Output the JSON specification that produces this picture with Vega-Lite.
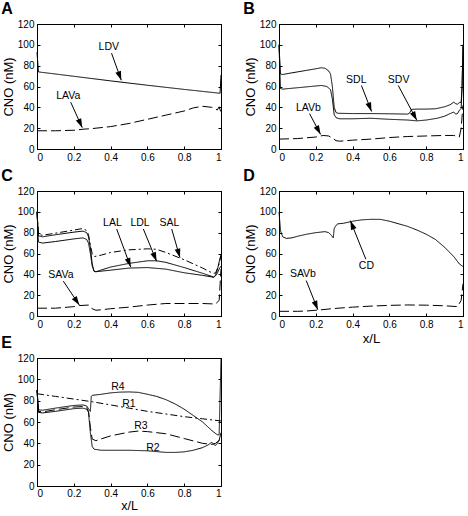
{
  "$schema": "https://vega.github.io/schema/vega-lite/v6.json",
  "padding": {"left": 0, "top": 0, "right": 0, "bottom": 0},
  "bounds": "flush",
  "columns": 2,
  "spacing": {"row": 42, "column": 58},
  "config": {
    "view": {"stroke": "black", "strokeWidth": 1},
    "font": "Liberation Sans",
    "axis": {"grid": false, "domainColor": "black", "tickColor": "black", "labelColor": "black", "titleColor": "black", "labelFont": "Liberation Sans", "labelFontSize": 10, "titleFont": "Liberation Sans", "titleFontSize": 13, "titleFontWeight": "normal", "tickSize": -3, "labelPadding": 6, "titlePadding": 3},
    "axisY": {"titlePadding": 2},
    "title": {"anchor": "start", "frame": "bounds", "fontSize": 16, "fontWeight": "bold", "font": "Liberation Sans", "color": "black", "offset": 2, "dx": -1},
    "text": {"font": "Liberation Sans", "fontSize": 10.5, "color": "black"}
  },
  "datasets": {
    "curves": [
      {"panel":"A","series":"LDV","x":0,"y":93},{"panel":"A","series":"LDV","x":0.008,"y":74},{"panel":"A","series":"LDV","x":0.1,"y":72},{"panel":"A","series":"LDV","x":0.2,"y":69.8},{"panel":"A","series":"LDV","x":0.3,"y":67.6},{"panel":"A","series":"LDV","x":0.4,"y":65.4},{"panel":"A","series":"LDV","x":0.5,"y":63.3},{"panel":"A","series":"LDV","x":0.6,"y":61.2},{"panel":"A","series":"LDV","x":0.7,"y":59.2},{"panel":"A","series":"LDV","x":0.8,"y":57.2},{"panel":"A","series":"LDV","x":0.9,"y":55.3},{"panel":"A","series":"LDV","x":0.995,"y":53.5},{"panel":"A","series":"LDV","x":1,"y":71},
      {"panel":"A","series":"LAVa","x":0,"y":17.5},{"panel":"A","series":"LAVa","x":0.1,"y":17.5},{"panel":"A","series":"LAVa","x":0.2,"y":18},{"panel":"A","series":"LAVa","x":0.25,"y":19},{"panel":"A","series":"LAVa","x":0.3,"y":19.6},{"panel":"A","series":"LAVa","x":0.4,"y":21.5},{"panel":"A","series":"LAVa","x":0.5,"y":24.5},{"panel":"A","series":"LAVa","x":0.6,"y":28.5},{"panel":"A","series":"LAVa","x":0.7,"y":32.5},{"panel":"A","series":"LAVa","x":0.8,"y":36.5},{"panel":"A","series":"LAVa","x":0.85,"y":39.5},{"panel":"A","series":"LAVa","x":0.9,"y":41},{"panel":"A","series":"LAVa","x":0.95,"y":40},{"panel":"A","series":"LAVa","x":0.98,"y":37.5},{"panel":"A","series":"LAVa","x":0.99,"y":40.5},{"panel":"A","series":"LAVa","x":1,"y":35},
      {"panel":"B","series":"SDL","x":0,"y":100},{"panel":"B","series":"SDL","x":0.008,"y":72},{"panel":"B","series":"SDL","x":0.02,"y":71.5},{"panel":"B","series":"SDL","x":0.05,"y":72.5},{"panel":"B","series":"SDL","x":0.1,"y":74},{"panel":"B","series":"SDL","x":0.15,"y":75.5},{"panel":"B","series":"SDL","x":0.2,"y":77},{"panel":"B","series":"SDL","x":0.23,"y":78},{"panel":"B","series":"SDL","x":0.25,"y":77.5},{"panel":"B","series":"SDL","x":0.27,"y":75},{"panel":"B","series":"SDL","x":0.28,"y":72},{"panel":"B","series":"SDL","x":0.29,"y":60},{"panel":"B","series":"SDL","x":0.3,"y":40},{"panel":"B","series":"SDL","x":0.31,"y":35},{"panel":"B","series":"SDL","x":0.32,"y":34.3},{"panel":"B","series":"SDL","x":0.4,"y":34},{"panel":"B","series":"SDL","x":0.5,"y":34},{"panel":"B","series":"SDL","x":0.6,"y":33.8},{"panel":"B","series":"SDL","x":0.7,"y":33.5},{"panel":"B","series":"SDL","x":0.71,"y":34.5},{"panel":"B","series":"SDL","x":0.72,"y":38},{"panel":"B","series":"SDL","x":0.75,"y":38.3},{"panel":"B","series":"SDL","x":0.8,"y":38.3},{"panel":"B","series":"SDL","x":0.85,"y":38.6},{"panel":"B","series":"SDL","x":0.9,"y":40.5},{"panel":"B","series":"SDL","x":0.93,"y":42.5},{"panel":"B","series":"SDL","x":0.95,"y":45},{"panel":"B","series":"SDL","x":0.96,"y":43.5},{"panel":"B","series":"SDL","x":0.97,"y":43},{"panel":"B","series":"SDL","x":0.98,"y":44.5},{"panel":"B","series":"SDL","x":0.99,"y":45},{"panel":"B","series":"SDL","x":0.995,"y":60},{"panel":"B","series":"SDL","x":1,"y":100},
      {"panel":"B","series":"SDV","x":0,"y":100},{"panel":"B","series":"SDV","x":0.008,"y":58},{"panel":"B","series":"SDV","x":0.02,"y":57.5},{"panel":"B","series":"SDV","x":0.1,"y":58.8},{"panel":"B","series":"SDV","x":0.2,"y":60.5},{"panel":"B","series":"SDV","x":0.23,"y":61},{"panel":"B","series":"SDV","x":0.26,"y":60},{"panel":"B","series":"SDV","x":0.28,"y":57},{"panel":"B","series":"SDV","x":0.29,"y":48},{"panel":"B","series":"SDV","x":0.3,"y":33},{"panel":"B","series":"SDV","x":0.31,"y":30},{"panel":"B","series":"SDV","x":0.33,"y":29},{"panel":"B","series":"SDV","x":0.4,"y":29},{"panel":"B","series":"SDV","x":0.5,"y":29.5},{"panel":"B","series":"SDV","x":0.6,"y":28.5},{"panel":"B","series":"SDV","x":0.7,"y":27.8},{"panel":"B","series":"SDV","x":0.75,"y":27},{"panel":"B","series":"SDV","x":0.8,"y":27.8},{"panel":"B","series":"SDV","x":0.86,"y":29.5},{"panel":"B","series":"SDV","x":0.9,"y":31.5},{"panel":"B","series":"SDV","x":0.93,"y":34},{"panel":"B","series":"SDV","x":0.95,"y":35.5},{"panel":"B","series":"SDV","x":0.96,"y":33.5},{"panel":"B","series":"SDV","x":0.97,"y":34},{"panel":"B","series":"SDV","x":0.98,"y":37},{"panel":"B","series":"SDV","x":0.99,"y":39},{"panel":"B","series":"SDV","x":0.995,"y":60},{"panel":"B","series":"SDV","x":1,"y":100},
      {"panel":"B","series":"LAVb","x":0,"y":9.5},{"panel":"B","series":"LAVb","x":0.1,"y":10},{"panel":"B","series":"LAVb","x":0.2,"y":11.5},{"panel":"B","series":"LAVb","x":0.24,"y":13},{"panel":"B","series":"LAVb","x":0.27,"y":12.5},{"panel":"B","series":"LAVb","x":0.29,"y":10.5},{"panel":"B","series":"LAVb","x":0.31,"y":8},{"panel":"B","series":"LAVb","x":0.33,"y":7.5},{"panel":"B","series":"LAVb","x":0.4,"y":8.5},{"panel":"B","series":"LAVb","x":0.5,"y":9.5},{"panel":"B","series":"LAVb","x":0.6,"y":11},{"panel":"B","series":"LAVb","x":0.7,"y":12},{"panel":"B","series":"LAVb","x":0.8,"y":12.5},{"panel":"B","series":"LAVb","x":0.9,"y":13},{"panel":"B","series":"LAVb","x":0.95,"y":13},{"panel":"B","series":"LAVb","x":0.98,"y":11.5},{"panel":"B","series":"LAVb","x":0.99,"y":20},{"panel":"B","series":"LAVb","x":1,"y":42},
      {"panel":"C","series":"SAL","x":0,"y":100},{"panel":"C","series":"SAL","x":0.008,"y":78},{"panel":"C","series":"SAL","x":0.03,"y":77.5},{"panel":"C","series":"SAL","x":0.1,"y":79.5},{"panel":"C","series":"SAL","x":0.2,"y":82.5},{"panel":"C","series":"SAL","x":0.25,"y":84},{"panel":"C","series":"SAL","x":0.27,"y":82},{"panel":"C","series":"SAL","x":0.28,"y":78},{"panel":"C","series":"SAL","x":0.29,"y":68},{"panel":"C","series":"SAL","x":0.3,"y":60},{"panel":"C","series":"SAL","x":0.31,"y":57},{"panel":"C","series":"SAL","x":0.35,"y":58.5},{"panel":"C","series":"SAL","x":0.4,"y":61},{"panel":"C","series":"SAL","x":0.5,"y":63.5},{"panel":"C","series":"SAL","x":0.6,"y":64.5},{"panel":"C","series":"SAL","x":0.65,"y":64},{"panel":"C","series":"SAL","x":0.7,"y":61},{"panel":"C","series":"SAL","x":0.8,"y":54},{"panel":"C","series":"SAL","x":0.9,"y":46},{"panel":"C","series":"SAL","x":0.95,"y":41.5},{"panel":"C","series":"SAL","x":0.97,"y":41},{"panel":"C","series":"SAL","x":0.99,"y":50},{"panel":"C","series":"SAL","x":1,"y":58},
      {"panel":"C","series":"LDL","x":0,"y":100},{"panel":"C","series":"LDL","x":0.008,"y":77},{"panel":"C","series":"LDL","x":0.03,"y":76},{"panel":"C","series":"LDL","x":0.1,"y":78},{"panel":"C","series":"LDL","x":0.2,"y":80.5},{"panel":"C","series":"LDL","x":0.25,"y":81.5},{"panel":"C","series":"LDL","x":0.27,"y":80},{"panel":"C","series":"LDL","x":0.28,"y":76},{"panel":"C","series":"LDL","x":0.29,"y":66},{"panel":"C","series":"LDL","x":0.3,"y":50},{"panel":"C","series":"LDL","x":0.31,"y":43},{"panel":"C","series":"LDL","x":0.32,"y":42.5},{"panel":"C","series":"LDL","x":0.4,"y":47},{"panel":"C","series":"LDL","x":0.5,"y":50.5},{"panel":"C","series":"LDL","x":0.6,"y":53},{"panel":"C","series":"LDL","x":0.65,"y":53},{"panel":"C","series":"LDL","x":0.7,"y":51.5},{"panel":"C","series":"LDL","x":0.8,"y":46.5},{"panel":"C","series":"LDL","x":0.9,"y":41},{"panel":"C","series":"LDL","x":0.95,"y":38},{"panel":"C","series":"LDL","x":0.96,"y":37.5},{"panel":"C","series":"LDL","x":0.97,"y":39},{"panel":"C","series":"LDL","x":0.98,"y":44},{"panel":"C","series":"LDL","x":0.99,"y":52},{"panel":"C","series":"LDL","x":1,"y":59},
      {"panel":"C","series":"LAL","x":0,"y":100},{"panel":"C","series":"LAL","x":0.008,"y":71},{"panel":"C","series":"LAL","x":0.03,"y":70},{"panel":"C","series":"LAL","x":0.1,"y":71.5},{"panel":"C","series":"LAL","x":0.2,"y":74},{"panel":"C","series":"LAL","x":0.25,"y":75},{"panel":"C","series":"LAL","x":0.27,"y":73.5},{"panel":"C","series":"LAL","x":0.28,"y":70},{"panel":"C","series":"LAL","x":0.29,"y":60},{"panel":"C","series":"LAL","x":0.3,"y":48},{"panel":"C","series":"LAL","x":0.31,"y":43},{"panel":"C","series":"LAL","x":0.32,"y":42.5},{"panel":"C","series":"LAL","x":0.4,"y":44},{"panel":"C","series":"LAL","x":0.5,"y":46},{"panel":"C","series":"LAL","x":0.6,"y":46.5},{"panel":"C","series":"LAL","x":0.7,"y":45},{"panel":"C","series":"LAL","x":0.8,"y":41.5},{"panel":"C","series":"LAL","x":0.9,"y":39},{"panel":"C","series":"LAL","x":0.95,"y":37.5},{"panel":"C","series":"LAL","x":0.96,"y":37},{"panel":"C","series":"LAL","x":0.97,"y":38.5},{"panel":"C","series":"LAL","x":0.98,"y":41},{"panel":"C","series":"LAL","x":0.99,"y":45},{"panel":"C","series":"LAL","x":1,"y":48},
      {"panel":"C","series":"SAVa","x":0,"y":7.5},{"panel":"C","series":"SAVa","x":0.1,"y":7.5},{"panel":"C","series":"SAVa","x":0.2,"y":9},{"panel":"C","series":"SAVa","x":0.23,"y":10},{"panel":"C","series":"SAVa","x":0.28,"y":10.5},{"panel":"C","series":"SAVa","x":0.29,"y":9.5},{"panel":"C","series":"SAVa","x":0.3,"y":7},{"panel":"C","series":"SAVa","x":0.32,"y":5.5},{"panel":"C","series":"SAVa","x":0.35,"y":6},{"panel":"C","series":"SAVa","x":0.4,"y":7},{"panel":"C","series":"SAVa","x":0.5,"y":8.5},{"panel":"C","series":"SAVa","x":0.6,"y":10.5},{"panel":"C","series":"SAVa","x":0.7,"y":12},{"panel":"C","series":"SAVa","x":0.8,"y":12},{"panel":"C","series":"SAVa","x":0.9,"y":12},{"panel":"C","series":"SAVa","x":0.97,"y":11.5},{"panel":"C","series":"SAVa","x":0.99,"y":15},{"panel":"C","series":"SAVa","x":1,"y":45},
      {"panel":"D","series":"CD","x":0,"y":100},{"panel":"D","series":"CD","x":0.008,"y":82},{"panel":"D","series":"CD","x":0.02,"y":76},{"panel":"D","series":"CD","x":0.04,"y":74.5},{"panel":"D","series":"CD","x":0.07,"y":75},{"panel":"D","series":"CD","x":0.1,"y":76.5},{"panel":"D","series":"CD","x":0.15,"y":78.5},{"panel":"D","series":"CD","x":0.2,"y":80},{"panel":"D","series":"CD","x":0.25,"y":81},{"panel":"D","series":"CD","x":0.27,"y":80},{"panel":"D","series":"CD","x":0.285,"y":77.5},{"panel":"D","series":"CD","x":0.295,"y":75},{"panel":"D","series":"CD","x":0.3,"y":84},{"panel":"D","series":"CD","x":0.31,"y":87},{"panel":"D","series":"CD","x":0.32,"y":88.5},{"panel":"D","series":"CD","x":0.35,"y":89},{"panel":"D","series":"CD","x":0.4,"y":91},{"panel":"D","series":"CD","x":0.45,"y":92.3},{"panel":"D","series":"CD","x":0.5,"y":92.8},{"panel":"D","series":"CD","x":0.55,"y":92.8},{"panel":"D","series":"CD","x":0.6,"y":91},{"panel":"D","series":"CD","x":0.65,"y":88.5},{"panel":"D","series":"CD","x":0.7,"y":86},{"panel":"D","series":"CD","x":0.75,"y":82.5},{"panel":"D","series":"CD","x":0.8,"y":78.5},{"panel":"D","series":"CD","x":0.85,"y":73.5},{"panel":"D","series":"CD","x":0.9,"y":66},{"panel":"D","series":"CD","x":0.95,"y":57},{"panel":"D","series":"CD","x":0.98,"y":50},{"panel":"D","series":"CD","x":1,"y":47.5},
      {"panel":"D","series":"SAVb","x":0,"y":4.5},{"panel":"D","series":"SAVb","x":0.1,"y":4.5},{"panel":"D","series":"SAVb","x":0.15,"y":4.8},{"panel":"D","series":"SAVb","x":0.22,"y":5.8},{"panel":"D","series":"SAVb","x":0.3,"y":7.2},{"panel":"D","series":"SAVb","x":0.4,"y":8.5},{"panel":"D","series":"SAVb","x":0.5,"y":9.5},{"panel":"D","series":"SAVb","x":0.6,"y":10.2},{"panel":"D","series":"SAVb","x":0.7,"y":10.6},{"panel":"D","series":"SAVb","x":0.8,"y":10.4},{"panel":"D","series":"SAVb","x":0.9,"y":9.8},{"panel":"D","series":"SAVb","x":0.97,"y":9},{"panel":"D","series":"SAVb","x":0.99,"y":15},{"panel":"D","series":"SAVb","x":1,"y":31},
      {"panel":"E","series":"R1","x":0,"y":86.5},{"panel":"E","series":"R1","x":0.1,"y":84},{"panel":"E","series":"R1","x":0.2,"y":81.5},{"panel":"E","series":"R1","x":0.3,"y":79},{"panel":"E","series":"R1","x":0.4,"y":76},{"panel":"E","series":"R1","x":0.5,"y":73},{"panel":"E","series":"R1","x":0.6,"y":70},{"panel":"E","series":"R1","x":0.7,"y":67.5},{"panel":"E","series":"R1","x":0.8,"y":65},{"panel":"E","series":"R1","x":0.9,"y":63},{"panel":"E","series":"R1","x":1,"y":61},
      {"panel":"E","series":"R4","x":0,"y":90},{"panel":"E","series":"R4","x":0.008,"y":71.5},{"panel":"E","series":"R4","x":0.03,"y":71},{"panel":"E","series":"R4","x":0.1,"y":73},{"panel":"E","series":"R4","x":0.2,"y":75.5},{"panel":"E","series":"R4","x":0.25,"y":76},{"panel":"E","series":"R4","x":0.27,"y":75},{"panel":"E","series":"R4","x":0.28,"y":72.5},{"panel":"E","series":"R4","x":0.29,"y":70},{"panel":"E","series":"R4","x":0.295,"y":84},{"panel":"E","series":"R4","x":0.3,"y":85},{"panel":"E","series":"R4","x":0.35,"y":86},{"panel":"E","series":"R4","x":0.4,"y":87.3},{"panel":"E","series":"R4","x":0.45,"y":88},{"panel":"E","series":"R4","x":0.5,"y":88.2},{"panel":"E","series":"R4","x":0.55,"y":87.8},{"panel":"E","series":"R4","x":0.6,"y":86},{"panel":"E","series":"R4","x":0.65,"y":84},{"panel":"E","series":"R4","x":0.7,"y":81},{"panel":"E","series":"R4","x":0.75,"y":77},{"panel":"E","series":"R4","x":0.8,"y":72},{"panel":"E","series":"R4","x":0.85,"y":66},{"panel":"E","series":"R4","x":0.9,"y":60},{"panel":"E","series":"R4","x":0.95,"y":52},{"panel":"E","series":"R4","x":0.98,"y":48},{"panel":"E","series":"R4","x":0.99,"y":48},{"panel":"E","series":"R4","x":1,"y":120},
      {"panel":"E","series":"R3","x":0,"y":90},{"panel":"E","series":"R3","x":0.008,"y":70},{"panel":"E","series":"R3","x":0.03,"y":69.5},{"panel":"E","series":"R3","x":0.1,"y":71.5},{"panel":"E","series":"R3","x":0.2,"y":74},{"panel":"E","series":"R3","x":0.25,"y":74.5},{"panel":"E","series":"R3","x":0.27,"y":73.5},{"panel":"E","series":"R3","x":0.28,"y":70},{"panel":"E","series":"R3","x":0.29,"y":55},{"panel":"E","series":"R3","x":0.3,"y":44},{"panel":"E","series":"R3","x":0.32,"y":42.5},{"panel":"E","series":"R3","x":0.4,"y":47},{"panel":"E","series":"R3","x":0.5,"y":50.5},{"panel":"E","series":"R3","x":0.55,"y":51.5},{"panel":"E","series":"R3","x":0.6,"y":51},{"panel":"E","series":"R3","x":0.7,"y":49},{"panel":"E","series":"R3","x":0.8,"y":44.5},{"panel":"E","series":"R3","x":0.9,"y":40},{"panel":"E","series":"R3","x":0.95,"y":39},{"panel":"E","series":"R3","x":0.97,"y":40},{"panel":"E","series":"R3","x":1,"y":44},
      {"panel":"E","series":"R2","x":0,"y":90},{"panel":"E","series":"R2","x":0.008,"y":69},{"panel":"E","series":"R2","x":0.03,"y":68.5},{"panel":"E","series":"R2","x":0.1,"y":70},{"panel":"E","series":"R2","x":0.2,"y":72.5},{"panel":"E","series":"R2","x":0.25,"y":73},{"panel":"E","series":"R2","x":0.27,"y":72},{"panel":"E","series":"R2","x":0.28,"y":69},{"panel":"E","series":"R2","x":0.29,"y":50},{"panel":"E","series":"R2","x":0.3,"y":37},{"panel":"E","series":"R2","x":0.31,"y":34.5},{"panel":"E","series":"R2","x":0.35,"y":33.5},{"panel":"E","series":"R2","x":0.4,"y":33.5},{"panel":"E","series":"R2","x":0.5,"y":33.5},{"panel":"E","series":"R2","x":0.6,"y":33},{"panel":"E","series":"R2","x":0.7,"y":31.5},{"panel":"E","series":"R2","x":0.75,"y":31.5},{"panel":"E","series":"R2","x":0.8,"y":32},{"panel":"E","series":"R2","x":0.85,"y":33.5},{"panel":"E","series":"R2","x":0.9,"y":36},{"panel":"E","series":"R2","x":0.93,"y":38.5},{"panel":"E","series":"R2","x":0.95,"y":41},{"panel":"E","series":"R2","x":0.96,"y":39},{"panel":"E","series":"R2","x":0.97,"y":38},{"panel":"E","series":"R2","x":0.98,"y":40},{"panel":"E","series":"R2","x":0.99,"y":43},{"panel":"E","series":"R2","x":1,"y":50}
    ],
    "labels": [
      {"panel":"A","label":"LDV","x":0.39,"y":98},{"panel":"A","label":"LAVa","x":0.17,"y":51},
      {"panel":"B","label":"SDL","x":0.42,"y":66},{"panel":"B","label":"SDV","x":0.65,"y":66},{"panel":"B","label":"LAVb","x":0.16,"y":39},
      {"panel":"C","label":"LAL","x":0.41,"y":89},{"panel":"C","label":"LDL","x":0.56,"y":89},{"panel":"C","label":"SAL","x":0.72,"y":89},{"panel":"C","label":"SAVa","x":0.13,"y":39},
      {"panel":"D","label":"CD","x":0.475,"y":48},{"panel":"D","label":"SAVb","x":0.13,"y":40},
      {"panel":"E","label":"R4","x":0.44,"y":93},{"panel":"E","label":"R1","x":0.5,"y":77},{"panel":"E","label":"R3","x":0.565,"y":56.5},{"panel":"E","label":"R2","x":0.63,"y":36}
    ],
    "arrows": [
      {"panel":"A","x":0.405,"y":92,"x2":0.458,"y2":66},{"panel":"A","x":0.183,"y":45,"x2":0.246,"y2":20.5},
      {"panel":"B","x":0.448,"y":61,"x2":0.503,"y2":36},{"panel":"B","x":0.648,"y":61,"x2":0.749,"y2":27.5},{"panel":"B","x":0.166,"y":34,"x2":0.226,"y2":14},
      {"panel":"C","x":0.433,"y":83.5,"x2":0.509,"y2":47},{"panel":"C","x":0.578,"y":83.5,"x2":0.65,"y2":52.5},{"panel":"C","x":0.732,"y":83.5,"x2":0.777,"y2":56},{"panel":"C","x":0.143,"y":33.5,"x2":0.23,"y2":10.5},
      {"panel":"D","x":0.472,"y":54.5,"x2":0.388,"y2":91.5},{"panel":"D","x":0.148,"y":34,"x2":0.211,"y2":6}
    ]
  },
  "concat": [
    {
      "title": "A", "width": 184, "height": 125,
      "layer": [
        {"data": {"name": "curves"}, "transform": [{"filter": "datum.panel === 'A'"}],
         "mark": {"type": "line", "strokeWidth": 1, "color": "black"},
         "encoding": {
           "x": {"field": "x", "type": "quantitative", "scale": {"domain": [0, 1], "nice": false}, "axis": {"orient": "bottom", "values": [0, 0.2, 0.4, 0.6, 0.8, 1], "format": "~g", "title": null}},
           "y": {"field": "y", "type": "quantitative", "scale": {"domain": [0, 120], "nice": false}, "axis": {"orient": "left", "values": [0, 20, 40, 60, 80, 100, 120], "title": "CNO (nM)"}},
           "strokeDash": {"field": "series", "type": "nominal", "legend": null, "scale": {"domain": ["LDV","LAVa","SDL","SDV","LAVb","SAL","LDL","LAL","SAVa","CD","SAVb","R1","R2","R3","R4"], "range": [[1,0],[10,4],[1,0],[1,0],[10,4],[7,3,2,3],[1,0],[1,0],[10,4],[1,0],[10,4],[7,3,2,3],[1,0],[10,4],[1,0]]}}
         }},
        {"data": {"name": "arrows"}, "transform": [{"filter": "datum.panel === 'A'"}],
         "mark": {"type": "rule", "strokeWidth": 1, "color": "black"},
         "encoding": {
           "x": {"field": "x", "type": "quantitative", "scale": {"domain": [0, 1], "nice": false}, "axis": null},
           "y": {"field": "y", "type": "quantitative", "scale": {"domain": [0, 120], "nice": false}, "axis": null},
           "x2": {"field": "x2"}, "y2": {"field": "y2"}
         }},
        {"data": {"name": "arrows"}, "transform": [{"filter": "datum.panel === 'A'"}, {"calculate": "atan2((datum.x2 - datum.x) * 184, (datum.y2 - datum.y) * 125 / 120) * 180 / PI", "as": "ang"}],
         "mark": {"type": "point", "shape": "M0,0L0.9,2.8L-0.9,2.8Z", "filled": true, "color": "black", "opacity": 1, "size": 42, "strokeWidth": 0},
         "encoding": {
           "x": {"field": "x2", "type": "quantitative", "scale": {"domain": [0, 1], "nice": false}, "axis": null},
           "y": {"field": "y2", "type": "quantitative", "scale": {"domain": [0, 120], "nice": false}, "axis": null},
           "angle": {"field": "ang", "type": "quantitative", "scale": null}
         }},
        {"data": {"name": "labels"}, "transform": [{"filter": "datum.panel === 'A'"}],
         "mark": {"type": "text", "align": "center", "baseline": "middle"},
         "encoding": {
           "x": {"field": "x", "type": "quantitative", "scale": {"domain": [0, 1], "nice": false}, "axis": {"orient": "top", "values": [0, 0.2, 0.4, 0.6, 0.8, 1], "labels": false, "title": null}},
           "y": {"field": "y", "type": "quantitative", "scale": {"domain": [0, 120], "nice": false}, "axis": {"orient": "right", "values": [0, 20, 40, 60, 80, 100, 120], "labels": false, "title": null}},
           "text": {"field": "label"}
         }}
      ]
    },
    {
      "title": "B", "width": 184, "height": 125,
      "layer": [
        {"data": {"name": "curves"}, "transform": [{"filter": "datum.panel === 'B'"}],
         "mark": {"type": "line", "strokeWidth": 1, "color": "black"},
         "encoding": {
           "x": {"field": "x", "type": "quantitative", "scale": {"domain": [0, 1], "nice": false}, "axis": {"orient": "bottom", "values": [0, 0.2, 0.4, 0.6, 0.8, 1], "format": "~g", "title": null}},
           "y": {"field": "y", "type": "quantitative", "scale": {"domain": [0, 120], "nice": false}, "axis": {"orient": "left", "values": [0, 20, 40, 60, 80, 100, 120], "title": "CNO (nM)"}},
           "strokeDash": {"field": "series", "type": "nominal", "legend": null, "scale": {"domain": ["LDV","LAVa","SDL","SDV","LAVb","SAL","LDL","LAL","SAVa","CD","SAVb","R1","R2","R3","R4"], "range": [[1,0],[10,4],[1,0],[1,0],[10,4],[7,3,2,3],[1,0],[1,0],[10,4],[1,0],[10,4],[7,3,2,3],[1,0],[10,4],[1,0]]}}
         }},
        {"data": {"name": "arrows"}, "transform": [{"filter": "datum.panel === 'B'"}],
         "mark": {"type": "rule", "strokeWidth": 1, "color": "black"},
         "encoding": {
           "x": {"field": "x", "type": "quantitative", "scale": {"domain": [0, 1], "nice": false}, "axis": null},
           "y": {"field": "y", "type": "quantitative", "scale": {"domain": [0, 120], "nice": false}, "axis": null},
           "x2": {"field": "x2"}, "y2": {"field": "y2"}
         }},
        {"data": {"name": "arrows"}, "transform": [{"filter": "datum.panel === 'B'"}, {"calculate": "atan2((datum.x2 - datum.x) * 184, (datum.y2 - datum.y) * 125 / 120) * 180 / PI", "as": "ang"}],
         "mark": {"type": "point", "shape": "M0,0L0.9,2.8L-0.9,2.8Z", "filled": true, "color": "black", "opacity": 1, "size": 42, "strokeWidth": 0},
         "encoding": {
           "x": {"field": "x2", "type": "quantitative", "scale": {"domain": [0, 1], "nice": false}, "axis": null},
           "y": {"field": "y2", "type": "quantitative", "scale": {"domain": [0, 120], "nice": false}, "axis": null},
           "angle": {"field": "ang", "type": "quantitative", "scale": null}
         }},
        {"data": {"name": "labels"}, "transform": [{"filter": "datum.panel === 'B'"}],
         "mark": {"type": "text", "align": "center", "baseline": "middle"},
         "encoding": {
           "x": {"field": "x", "type": "quantitative", "scale": {"domain": [0, 1], "nice": false}, "axis": {"orient": "top", "values": [0, 0.2, 0.4, 0.6, 0.8, 1], "labels": false, "title": null}},
           "y": {"field": "y", "type": "quantitative", "scale": {"domain": [0, 120], "nice": false}, "axis": {"orient": "right", "values": [0, 20, 40, 60, 80, 100, 120], "labels": false, "title": null}},
           "text": {"field": "label"}
         }}
      ]
    },
    {
      "title": "C", "width": 184, "height": 125,
      "layer": [
        {"data": {"name": "curves"}, "transform": [{"filter": "datum.panel === 'C'"}],
         "mark": {"type": "line", "strokeWidth": 1, "color": "black"},
         "encoding": {
           "x": {"field": "x", "type": "quantitative", "scale": {"domain": [0, 1], "nice": false}, "axis": {"orient": "bottom", "values": [0, 0.2, 0.4, 0.6, 0.8, 1], "format": "~g", "title": null}},
           "y": {"field": "y", "type": "quantitative", "scale": {"domain": [0, 120], "nice": false}, "axis": {"orient": "left", "values": [0, 20, 40, 60, 80, 100, 120], "title": "CNO (nM)"}},
           "strokeDash": {"field": "series", "type": "nominal", "legend": null, "scale": {"domain": ["LDV","LAVa","SDL","SDV","LAVb","SAL","LDL","LAL","SAVa","CD","SAVb","R1","R2","R3","R4"], "range": [[1,0],[10,4],[1,0],[1,0],[10,4],[7,3,2,3],[1,0],[1,0],[10,4],[1,0],[10,4],[7,3,2,3],[1,0],[10,4],[1,0]]}}
         }},
        {"data": {"name": "arrows"}, "transform": [{"filter": "datum.panel === 'C'"}],
         "mark": {"type": "rule", "strokeWidth": 1, "color": "black"},
         "encoding": {
           "x": {"field": "x", "type": "quantitative", "scale": {"domain": [0, 1], "nice": false}, "axis": null},
           "y": {"field": "y", "type": "quantitative", "scale": {"domain": [0, 120], "nice": false}, "axis": null},
           "x2": {"field": "x2"}, "y2": {"field": "y2"}
         }},
        {"data": {"name": "arrows"}, "transform": [{"filter": "datum.panel === 'C'"}, {"calculate": "atan2((datum.x2 - datum.x) * 184, (datum.y2 - datum.y) * 125 / 120) * 180 / PI", "as": "ang"}],
         "mark": {"type": "point", "shape": "M0,0L0.9,2.8L-0.9,2.8Z", "filled": true, "color": "black", "opacity": 1, "size": 42, "strokeWidth": 0},
         "encoding": {
           "x": {"field": "x2", "type": "quantitative", "scale": {"domain": [0, 1], "nice": false}, "axis": null},
           "y": {"field": "y2", "type": "quantitative", "scale": {"domain": [0, 120], "nice": false}, "axis": null},
           "angle": {"field": "ang", "type": "quantitative", "scale": null}
         }},
        {"data": {"name": "labels"}, "transform": [{"filter": "datum.panel === 'C'"}],
         "mark": {"type": "text", "align": "center", "baseline": "middle"},
         "encoding": {
           "x": {"field": "x", "type": "quantitative", "scale": {"domain": [0, 1], "nice": false}, "axis": {"orient": "top", "values": [0, 0.2, 0.4, 0.6, 0.8, 1], "labels": false, "title": null}},
           "y": {"field": "y", "type": "quantitative", "scale": {"domain": [0, 120], "nice": false}, "axis": {"orient": "right", "values": [0, 20, 40, 60, 80, 100, 120], "labels": false, "title": null}},
           "text": {"field": "label"}
         }}
      ]
    },
    {
      "title": "D", "width": 184, "height": 125,
      "layer": [
        {"data": {"name": "curves"}, "transform": [{"filter": "datum.panel === 'D'"}],
         "mark": {"type": "line", "strokeWidth": 1, "color": "black"},
         "encoding": {
           "x": {"field": "x", "type": "quantitative", "scale": {"domain": [0, 1], "nice": false}, "axis": {"orient": "bottom", "values": [0, 0.2, 0.4, 0.6, 0.8, 1], "format": "~g", "title": "x/L"}},
           "y": {"field": "y", "type": "quantitative", "scale": {"domain": [0, 120], "nice": false}, "axis": {"orient": "left", "values": [0, 20, 40, 60, 80, 100, 120], "title": "CNO (nM)"}},
           "strokeDash": {"field": "series", "type": "nominal", "legend": null, "scale": {"domain": ["LDV","LAVa","SDL","SDV","LAVb","SAL","LDL","LAL","SAVa","CD","SAVb","R1","R2","R3","R4"], "range": [[1,0],[10,4],[1,0],[1,0],[10,4],[7,3,2,3],[1,0],[1,0],[10,4],[1,0],[10,4],[7,3,2,3],[1,0],[10,4],[1,0]]}}
         }},
        {"data": {"name": "arrows"}, "transform": [{"filter": "datum.panel === 'D'"}],
         "mark": {"type": "rule", "strokeWidth": 1, "color": "black"},
         "encoding": {
           "x": {"field": "x", "type": "quantitative", "scale": {"domain": [0, 1], "nice": false}, "axis": null},
           "y": {"field": "y", "type": "quantitative", "scale": {"domain": [0, 120], "nice": false}, "axis": null},
           "x2": {"field": "x2"}, "y2": {"field": "y2"}
         }},
        {"data": {"name": "arrows"}, "transform": [{"filter": "datum.panel === 'D'"}, {"calculate": "atan2((datum.x2 - datum.x) * 184, (datum.y2 - datum.y) * 125 / 120) * 180 / PI", "as": "ang"}],
         "mark": {"type": "point", "shape": "M0,0L0.9,2.8L-0.9,2.8Z", "filled": true, "color": "black", "opacity": 1, "size": 42, "strokeWidth": 0},
         "encoding": {
           "x": {"field": "x2", "type": "quantitative", "scale": {"domain": [0, 1], "nice": false}, "axis": null},
           "y": {"field": "y2", "type": "quantitative", "scale": {"domain": [0, 120], "nice": false}, "axis": null},
           "angle": {"field": "ang", "type": "quantitative", "scale": null}
         }},
        {"data": {"name": "labels"}, "transform": [{"filter": "datum.panel === 'D'"}],
         "mark": {"type": "text", "align": "center", "baseline": "middle"},
         "encoding": {
           "x": {"field": "x", "type": "quantitative", "scale": {"domain": [0, 1], "nice": false}, "axis": {"orient": "top", "values": [0, 0.2, 0.4, 0.6, 0.8, 1], "labels": false, "title": null}},
           "y": {"field": "y", "type": "quantitative", "scale": {"domain": [0, 120], "nice": false}, "axis": {"orient": "right", "values": [0, 20, 40, 60, 80, 100, 120], "labels": false, "title": null}},
           "text": {"field": "label"}
         }}
      ]
    },
    {
      "title": "E", "width": 184, "height": 128,
      "layer": [
        {"data": {"name": "curves"}, "transform": [{"filter": "datum.panel === 'E'"}],
         "mark": {"type": "line", "strokeWidth": 1, "color": "black"},
         "encoding": {
           "x": {"field": "x", "type": "quantitative", "scale": {"domain": [0, 1], "nice": false}, "axis": {"orient": "bottom", "values": [0, 0.2, 0.4, 0.6, 0.8, 1], "format": "~g", "title": "x/L", "labelPadding": 5, "titlePadding": 1, "titleFontSize": 12.5}},
           "y": {"field": "y", "type": "quantitative", "scale": {"domain": [0, 120], "nice": false}, "axis": {"orient": "left", "values": [0, 20, 40, 60, 80, 100, 120], "title": "CNO (nM)"}},
           "strokeDash": {"field": "series", "type": "nominal", "legend": null, "scale": {"domain": ["LDV","LAVa","SDL","SDV","LAVb","SAL","LDL","LAL","SAVa","CD","SAVb","R1","R2","R3","R4"], "range": [[1,0],[10,4],[1,0],[1,0],[10,4],[7,3,2,3],[1,0],[1,0],[10,4],[1,0],[10,4],[7,3,2,3],[1,0],[10,4],[1,0]]}}
         }},
        {"data": {"name": "labels"}, "transform": [{"filter": "datum.panel === 'E'"}],
         "mark": {"type": "text", "align": "center", "baseline": "middle"},
         "encoding": {
           "x": {"field": "x", "type": "quantitative", "scale": {"domain": [0, 1], "nice": false}, "axis": {"orient": "top", "values": [0, 0.2, 0.4, 0.6, 0.8, 1], "labels": false, "title": null}},
           "y": {"field": "y", "type": "quantitative", "scale": {"domain": [0, 120], "nice": false}, "axis": {"orient": "right", "values": [0, 20, 40, 60, 80, 100, 120], "labels": false, "title": null}},
           "text": {"field": "label"}
         }}
      ]
    }
  ]
}
